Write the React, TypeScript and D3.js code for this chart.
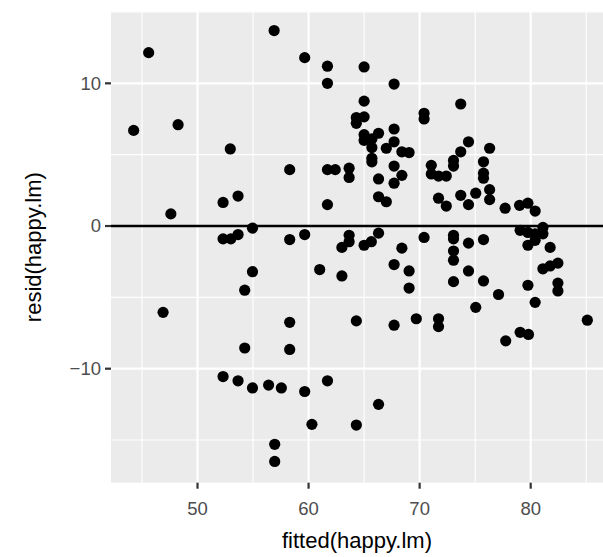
import React from "react";
import * as d3 from "d3";

// fitted(happy.lm) and resid(happy.lm)
const fitted = [
  45.6, 56.9, 44.25, 48.25, 52.95, 59.65, 61.7, 65.0, 61.7, 67.7,
  65.0, 64.3, 65.0, 64.3, 70.4, 70.4, 73.7, 65.0, 65.0, 65.7,
  65.7, 66.3, 67.7, 67.7, 67.0, 68.4, 69.05, 74.4, 73.7, 76.3,
  65.7, 65.7, 58.3, 61.7, 62.4, 63.65, 63.65, 66.3, 67.7, 68.4,
  67.7, 71.05, 71.05, 71.7, 72.4, 73.05, 73.05, 75.75, 75.75, 75.75,
  76.3, 75.05, 47.6, 52.3, 53.65, 61.7, 66.3, 67.0, 71.7, 72.4,
  73.7, 74.4, 76.3, 77.7, 79.0, 79.75, 80.4, 54.95, 52.3, 53.0,
  53.65, 54.95, 54.25, 58.3, 59.65, 63.65, 63.65, 63.0, 65.0, 65.65,
  66.3, 68.4, 70.4, 61.0, 63.0, 67.7, 69.05, 69.05, 73.05, 73.05,
  73.05, 73.05, 74.4, 75.75, 79.05, 79.75, 80.4, 81.1, 81.1, 79.75,
  80.4, 81.75, 81.1, 81.75, 82.45, 82.45, 82.45, 79.75, 74.4, 73.05,
  75.75, 77.1, 80.4, 75.05, 71.7, 71.7, 85.1, 79.05, 79.8, 77.75,
  46.9, 54.25, 58.3, 58.3, 64.3, 67.7, 69.7, 52.3, 53.65, 54.95,
  56.4, 57.55, 59.65, 61.7, 66.3, 60.3, 64.3, 56.95, 56.95,
];
const resid = [
  12.15, 13.7, 6.7, 7.1, 5.4, 11.8, 11.2, 11.15, 10.0, 9.95,
  8.75, 7.6, 7.65, 7.2, 7.9, 7.5, 8.55, 6.4, 6.0, 6.1,
  5.5, 6.5, 6.8, 5.9, 5.45, 5.2, 5.15, 5.9, 5.2, 5.45,
  4.75, 4.5, 3.95, 3.95, 3.95, 4.05, 3.4, 3.3, 4.2, 3.55,
  3.0, 4.25, 3.65, 3.5, 3.5, 4.6, 4.2, 4.5, 3.7, 3.35,
  2.55, 2.3, 0.85, 1.65, 2.1, 1.5, 2.05, 1.7, 1.95, 1.4,
  2.15, 1.5, 1.85, 1.25, 1.45, 1.6, 1.05, -0.15, -0.9, -0.9,
  -0.6, -3.2, -4.5, -0.95, -0.6, -0.65, -1.1, -1.5, -1.35, -1.1,
  -0.5, -1.55, -0.8, -3.05, -3.5, -2.7, -3.15, -4.35, -0.65, -0.9,
  -1.75, -2.4, -1.2, -0.95, -0.3, -0.45, -0.55, -0.1, -0.55, -1.35,
  -1.0, -1.5, -3.0, -2.8, -2.6, -4.0, -4.55, -4.15, -3.15, -3.9,
  -3.85, -4.8, -5.35, -5.7, -6.5, -7.05, -6.6, -7.45, -7.6, -8.05,
  -6.05, -8.55, -6.75, -8.65, -6.65, -6.95, -6.5, -10.55, -10.85, -11.35,
  -11.15, -11.35, -11.6, -10.85, -12.5, -13.9, -13.95, -15.3, -16.5,
];

const xMajor = [50, 60, 70, 80];
const xMinor = [45, 55, 65, 75, 85];
const yMajor = [-10, 0, 10];
const yMinor = [-15, -5, 5, 15];

const width = 603;
const height = 557;
const panel = { left: 111, top: 11.7, right: 610, bottom: 482.7 };

export default function App() {
  const x = d3.scaleLinear().domain([42.21, 87.14]).range([panel.left, panel.right]);
  const y = d3.scaleLinear().domain([-17.99, 15.02]).range([panel.bottom, panel.top]);
  const fmt = (v: number) => (v < 0 ? "\u2212" + Math.abs(v) : String(v));
  const font = "'Liberation Sans', Arial, sans-serif";

  return (
    <svg
      width={width}
      height={height}
      style={{ position: "absolute", left: 0, top: 0, background: "#fff" }}
      fontFamily={font}
    >
      <rect
        x={panel.left}
        y={panel.top}
        width={panel.right - panel.left}
        height={panel.bottom - panel.top}
        fill="#EBEBEB"
      />
      {xMinor.map((v) => (
        <line key={"xm" + v} x1={x(v)} x2={x(v)} y1={panel.top} y2={panel.bottom} stroke="#fff" strokeWidth={1.1} />
      ))}
      {yMinor.map((v) => (
        <line key={"ym" + v} x1={panel.left} x2={panel.right} y1={y(v)} y2={y(v)} stroke="#fff" strokeWidth={1.1} />
      ))}
      {xMajor.map((v) => (
        <line key={"xM" + v} x1={x(v)} x2={x(v)} y1={panel.top} y2={panel.bottom} stroke="#fff" strokeWidth={2.2} />
      ))}
      {yMajor.map((v) => (
        <line key={"yM" + v} x1={panel.left} x2={panel.right} y1={y(v)} y2={y(v)} stroke="#fff" strokeWidth={2.2} />
      ))}

      {fitted.map((f, i) => (
        <circle key={i} cx={x(f)} cy={y(resid[i])} r={5.6} fill="#000" />
      ))}

      <line x1={panel.left} x2={panel.right} y1={y(0)} y2={y(0)} stroke="#000" strokeWidth={2.3} />

      {/* axes ticks and labels */}
      {xMajor.map((v) => (
        <g key={"xt" + v}>
          <line x1={x(v)} x2={x(v)} y1={panel.bottom} y2={panel.bottom + 6} stroke="#333" strokeWidth={2.2} />
          <text x={x(v)} y={515} textAnchor="middle" fontSize={18.5} fill="#4D4D4D">
            {fmt(v)}
          </text>
        </g>
      ))}
      {yMajor.map((v) => (
        <g key={"yt" + v}>
          <line x1={panel.left - 6} x2={panel.left} y1={y(v)} y2={y(v)} stroke="#333" strokeWidth={2.2} />
          <text x={panel.left - 10} y={y(v)} dy="0.35em" textAnchor="end" fontSize={18.5} fill="#4D4D4D">
            {fmt(v)}
          </text>
        </g>
      ))}

      <text x={357} y={548} textAnchor="middle" fontSize={22} fill="#000">
        fitted(happy.lm)
      </text>
      <text
        transform={`translate(41,${(panel.top + panel.bottom) / 2}) rotate(-90)`}
        textAnchor="middle"
        fontSize={22}
        fill="#000"
      >
        resid(happy.lm)
      </text>
    </svg>
  );
}
